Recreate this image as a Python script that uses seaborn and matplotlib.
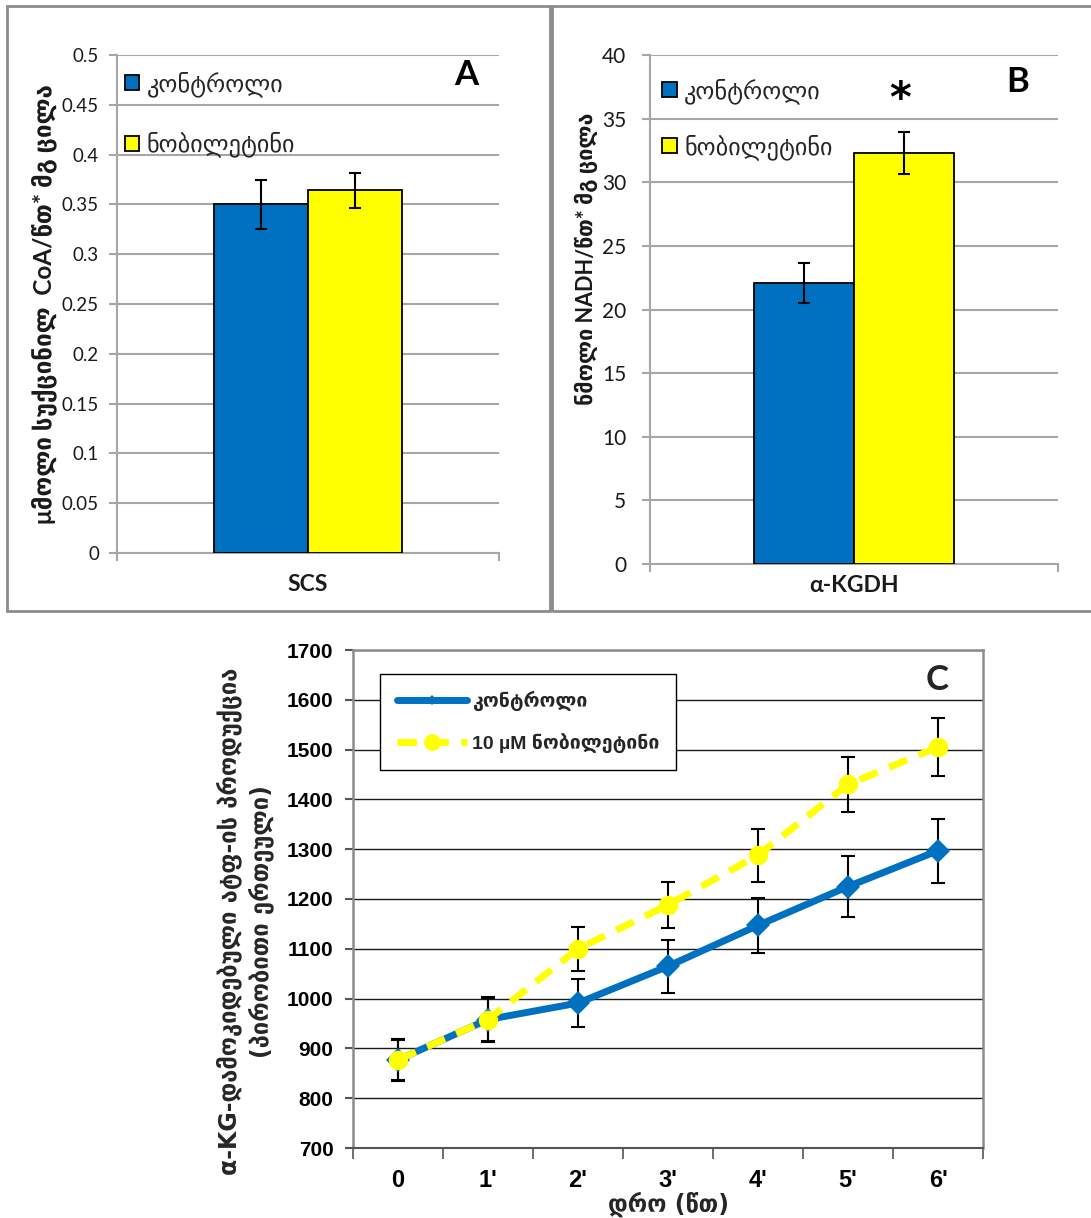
import numpy as np
import pandas as pd
import matplotlib
matplotlib.use('Agg')
import matplotlib.pyplot as plt
import seaborn as sns
from matplotlib.patches import Patch, Rectangle
from matplotlib.lines import Line2D
from matplotlib.ticker import FormatStrFormatter, FixedLocator

sns.set_theme(style='white')
plt.rcParams['font.family'] = ['Lato', 'DejaVu Sans']
plt.rcParams['axes.unicode_minus'] = False

# ---------------- data ----------------
groups = ['კონტროლი', 'ნობილეტინი']

scs_cat = ['SCS']
scs_mean = [0.350, 0.364]
scs_err = [0.025, 0.018]
scs_ticks = [0, 0.05, 0.1, 0.15, 0.2, 0.25, 0.3, 0.35, 0.4, 0.45, 0.5]

kgdh_cat = ['α-KGDH']
kgdh_mean = [22.1, 32.3]
kgdh_err = [1.55, 1.65]
kgdh_ticks = [0, 5, 10, 15, 20, 25, 30, 35, 40]

times = ['0', "1'", "2'", "3'", "4'", "5'", "6'"]
c_groups = ['კონტროლი', '10 µM ნობილეტინი']
ctrl_vals = [877, 958, 991, 1065, 1147, 1225, 1297]
ctrl_err = [42, 46, 49, 53, 56, 61, 64]
nob_vals = [877, 958, 1100, 1188, 1288, 1430, 1505]
nob_err = [40, 44, 44, 47, 53, 56, 59]
c_ticks = [700, 800, 900, 1000, 1100, 1200, 1300, 1400, 1500, 1600, 1700]

BLUE = '#0070C0'
YELLOW = '#FFFF00'
GRID = '#A6A6A6'
W, H = 1091, 1218

fig = plt.figure(figsize=(W / 100, H / 100), dpi=100)
fig.patch.set_facecolor('white')


def fx(px):
    return px / W


def fy(py):
    return 1 - py / H


def axes_px(l, t, r, b):
    return fig.add_axes([fx(l), fy(b), fx(r - l), (b - t) / H])


# panel borders
fig.add_artist(Rectangle((fx(7), fy(611)), fx(550 - 7), (611 - 6) / H,
                         transform=fig.transFigure, fill=False,
                         ec='#8c8c8c', lw=2))
fig.add_artist(Rectangle((fx(552), fy(611)), fx(1100 - 552), (611 - 6) / H,
                         transform=fig.transFigure, fill=False,
                         ec='#8c8c8c', lw=2))

GEO = ['DejaVu Sans']
TICKF = ['Lato', 'DejaVu Sans']


def bar_panel(ax, cat, means, errs, ticks, fmt, tick_fs, tick_pad,
              ylabel, ylab_xy, ylab_fs, letter, letter_xy, leg_anchor,
              leg_spacing, xlab_pad):
    df = pd.DataFrame({'cat': cat * len(groups), 'group': groups,
                       'val': means})
    sns.barplot(data=df, x='cat', y='val', hue='group', hue_order=groups,
                palette=[BLUE, YELLOW], saturation=1, width=0.49,
                edgecolor='black', linewidth=1.3, errorbar=None,
                legend=False, ax=ax, zorder=3)
    xs = [p.get_x() + p.get_width() / 2 for p in ax.patches[:len(means)]]
    ax.errorbar(xs, means, yerr=errs, fmt='none', ecolor='black',
                elinewidth=1.5, capsize=4.5, capthick=1.5, zorder=4)
    ax.set_xlim(-0.5, 0.5)
    ax.set_ylim(ticks[0], ticks[-1])
    ax.yaxis.set_major_locator(FixedLocator(ticks))
    ax.yaxis.set_major_formatter(FormatStrFormatter(fmt))
    ax.set_axisbelow(True)
    ax.grid(axis='y', color=GRID, lw=1.5)
    ax.grid(axis='x', visible=False)
    for s in ['top', 'right']:
        ax.spines[s].set_visible(False)
    for s in ['left', 'bottom']:
        ax.spines[s].set_color(GRID)
        ax.spines[s].set_linewidth(1.5)
    ax.tick_params(axis='y', which='major', length=6, width=1.5,
                   color=GRID, pad=tick_pad, labelsize=tick_fs,
                   labelcolor='#1a1a1a', left=True, labelfontfamily=TICKF)
    ax.xaxis.set_minor_locator(FixedLocator([-0.5, 0.5]))
    ax.tick_params(axis='x', which='minor', length=6, width=1.5,
                   color=GRID, bottom=True)
    ax.tick_params(axis='x', which='major', length=0, pad=xlab_pad)
    ax.set_xticks([0], labels=cat, fontweight='bold', fontsize=16.5,
                  family=TICKF, color='#1a1a1a')
    ax.set_xlabel('')
    ax.set_ylabel(ylabel, fontsize=ylab_fs, fontweight='bold',
                  family=TICKF, color='#1a1a1a')
    ax.yaxis.set_label_coords(*ylab_xy)
    ax.text(letter_xy[0], letter_xy[1], letter, transform=ax.transAxes,
            ha='center', va='center', fontsize=25, fontweight='bold',
            family=TICKF, color='black')
    handles = [Patch(facecolor=c, edgecolor='black', lw=1.3, label=g)
               for c, g in zip([BLUE, YELLOW], groups)]
    ax.legend(handles=handles, loc='upper left', bbox_to_anchor=leg_anchor,
              frameon=False, handlelength=0.6, handleheight=0.6,
              handletextpad=0.3, labelspacing=leg_spacing, borderpad=0,
              borderaxespad=0, prop={'family': GEO, 'size': 17.5})
    return xs


# ---------------- panel A ----------------
axA = axes_px(117, 55, 499, 553)
bar_panel(axA, scs_cat, scs_mean, scs_err, scs_ticks, '%g', 13.5, 7,
          'μმოლი სუქცინილ  CoA/წთ* მგ ცილა', (-0.157, 0.5), 17.5, 'A',
          (0.915, 0.96), (0.02, 0.968), 1.45, 15)

# ---------------- panel B ----------------
axB = axes_px(650, 55, 1058, 564)
xsB = bar_panel(axB, kgdh_cat, kgdh_mean, kgdh_err, kgdh_ticks, '%g', 15,
                11, 'ნმოლი NADH/წთ* მგ ცილა', (-0.127, 0.6), 15.5, 'B',
                (0.90, 0.947), (0.03, 0.955), 1.25, 8)
axB.text(xsB[1] - 0.01, 35.5, '*', ha='center', va='baseline',
         fontsize=30, fontweight='bold', family=['DejaVu Sans'],
         color='black')

# ---------------- panel C ----------------
axC = axes_px(353, 650, 983, 1148)
dfc = pd.DataFrame({
    'time': times * 2,
    'group': [c_groups[0]] * len(times) + [c_groups[1]] * len(times),
    'value': ctrl_vals + nob_vals,
})
sns.pointplot(data=dfc, x='time', y='value', hue='group', order=times,
              hue_order=c_groups, palette=[BLUE, YELLOW],
              markers=['D', 'o'], linestyles=['-', '--'], errorbar=None,
              legend=False, ax=axC, markersize=11, linewidth=5)
lines = [l for l in axC.lines if len(l.get_xdata()) == len(times)]
for ln in lines:
    ln.set_markeredgewidth(0)
    ln.set_zorder(3)
    if matplotlib.colors.to_hex(ln.get_color()).lower() == '#ffff00':
        ln.set_dashes([2.8, 1.8])
        ln.set_markersize(14)
        ln.set_zorder(4)
    else:
        ln.set_markersize(12)
for ln, vals, errs in zip(lines, [ctrl_vals, nob_vals], [ctrl_err, nob_err]):
    axC.errorbar(ln.get_xdata(), vals, yerr=errs, fmt='none',
                 ecolor='black', elinewidth=1.5, capsize=5, capthick=1.5,
                 zorder=2.5)

axC.set_xlim(-0.5, len(times) - 0.5)
axC.set_ylim(c_ticks[0], c_ticks[-1])
axC.yaxis.set_major_locator(FixedLocator(c_ticks))
axC.set_axisbelow(True)
axC.grid(axis='y', color='#1a1a1a', lw=1)
axC.grid(axis='x', visible=False)
for s in ['top', 'right', 'left']:
    axC.spines[s].set_color('#8c8c8c')
    axC.spines[s].set_linewidth(1.8)
axC.spines['bottom'].set_color('#555555')
axC.spines['bottom'].set_linewidth(1.5)
CF = ['Liberation Sans']
axC.tick_params(axis='y', length=6, width=1.5, color='#555555', pad=8,
                left=True)
axC.set_yticks(c_ticks, labels=[str(t) for t in c_ticks], fontsize=15,
               fontweight='bold', family=CF, color='black')
axC.xaxis.set_minor_locator(FixedLocator(np.arange(-0.5, len(times), 1.0)))
axC.tick_params(axis='x', which='minor', length=8, width=1.2,
                color='#555555', bottom=True)
axC.tick_params(axis='x', which='major', length=0, pad=15)
axC.set_xticks(range(len(times)), labels=times, fontsize=17,
               fontweight='bold', family=CF, color='black')
axC.set_xlabel('დრო (წთ)', fontsize=17, fontweight='bold', family=GEO)
axC.xaxis.set_label_coords(0.5, -0.112)
axC.xaxis.label.set_va('center')
axC.set_ylabel('α-KG-დამოკიდებული ატფ-ის პროდუქცია\n(პირობითი ერთეული)',
               fontsize=17, fontweight='bold', family=GEO,
               linespacing=1.3)
axC.yaxis.set_label_coords(-0.125, 0.455)
axC.text(0.927, 0.94, 'C', transform=axC.transAxes, ha='center',
         va='center', fontsize=25, fontweight='bold', family=TICKF)

c_handles = [
    Line2D([], [], color=BLUE, lw=5, marker='D', ms=5, mew=0,
           label=c_groups[0]),
    Line2D([], [], color=YELLOW, lw=5, dashes=[2.8, 1.8], marker='o',
           ms=12, mew=0, label=c_groups[1]),
]
legC = axC.legend(handles=c_handles, loc='upper left',
                  bbox_to_anchor=(0.043, 0.952), borderaxespad=0,
                  frameon=True, fancybox=False, edgecolor='black',
                  framealpha=1, handlelength=3.6, handletextpad=0.3,
                  labelspacing=1.15, borderpad=0.85,
                  prop={'family': ['Liberation Sans', 'DejaVu Sans'],
                        'weight': 'bold', 'size': 14})
legC.get_frame().set_linewidth(1.0)

fig.savefig('out.png', dpi=100, facecolor='white')
